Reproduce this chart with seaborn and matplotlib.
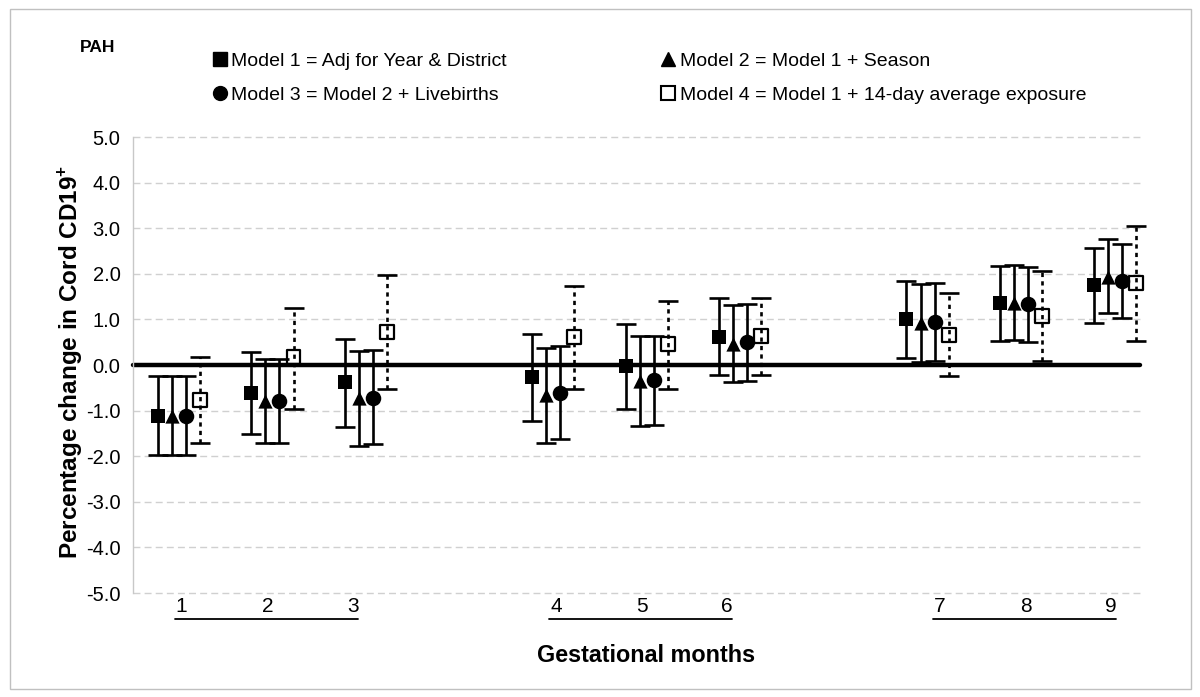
import numpy as np
import pandas as pd
import matplotlib
matplotlib.use("Agg")
import matplotlib.pyplot as plt
import matplotlib.transforms as mtransforms
from matplotlib.lines import Line2D
from matplotlib.patches import Rectangle
import seaborn as sns

# ---------------- data ----------------
months = [1, 2, 3, 4, 5, 6, 7, 8, 9]
model_labels = ["Model 1 = Adj for Year & District",
                "Model 2 = Model 1 + Season",
                "Model 3 = Model 2 + Livebirths",
                "Model 4 = Model 1 + 14-day average exposure"]

m1_est = [-1.11, -0.61, -0.38, -0.26, -0.02, 0.62, 1.00, 1.35, 1.75]
m1_lo = [-1.97, -1.51, -1.35, -1.22, -0.96, -0.23, 0.15, 0.52, 0.92]
m1_hi = [-0.25, 0.29, 0.58, 0.67, 0.89, 1.46, 1.84, 2.18, 2.57]

m2_est = [-1.12, -0.80, -0.73, -0.66, -0.34, 0.47, 0.93, 1.37, 1.94]
m2_lo = [-1.97, -1.72, -1.77, -1.70, -1.33, -0.38, 0.06, 0.54, 1.13]
m2_hi = [-0.25, 0.13, 0.31, 0.37, 0.64, 1.31, 1.77, 2.19, 2.76]

m3_est = [-1.11, -0.79, -0.72, -0.61, -0.33, 0.51, 0.95, 1.33, 1.84]
m3_lo = [-1.97, -1.72, -1.73, -1.63, -1.32, -0.36, 0.09, 0.50, 1.03]
m3_hi = [-0.25, 0.13, 0.32, 0.42, 0.64, 1.34, 1.80, 2.15, 2.65]

m4_est = [-0.77, 0.17, 0.72, 0.61, 0.46, 0.64, 0.66, 1.08, 1.79]
m4_lo = [-1.70, -0.96, -0.52, -0.53, -0.52, -0.21, -0.24, 0.09, 0.53]
m4_hi = [0.17, 1.26, 1.97, 1.73, 1.41, 1.48, 1.57, 2.06, 3.05]

y_ticks = [-5, -4, -3, -2, -1, 0, 1, 2, 3, 4, 5]
title_text = "PAH"
y_label = r"Percentage change in Cord CD19$^{\mathbf{+}}$"
x_label = "Gestational months"

# ---------------- styling ----------------
sns.set_theme(style="white")
plt.rcParams["font.family"] = ["Liberation Sans", "DejaVu Sans"]
plt.rcParams["text.color"] = "black"
plt.rcParams["axes.labelcolor"] = "black"
plt.rcParams["xtick.color"] = "black"
plt.rcParams["ytick.color"] = "black"
plt.rcParams["mathtext.fontset"] = "custom"
plt.rcParams["mathtext.rm"] = "Liberation Sans"
plt.rcParams["mathtext.bf"] = "Liberation Sans:bold"

ests = [m1_est, m2_est, m3_est, m4_est]
los = [m1_lo, m2_lo, m3_lo, m4_lo]
his = [m1_hi, m2_hi, m3_hi, m4_hi]

rows = []
for k in range(4):
    for i, mo in enumerate(months):
        rows.append(dict(model=model_labels[k], month=mo, est=ests[k][i],
                         lo=los[k][i], hi=his[k][i], k=k))
df = pd.DataFrame(rows)
# category slots with a blank slot between trimesters
df["slot"] = df["month"] + (df["month"] - 1) // 3
offsets = [-0.225, -0.075, 0.075, 0.225]
df["x"] = df["slot"] + df["k"].map(lambda k: offsets[k])

W, H = 1200, 697
fig = plt.figure(figsize=(W / 100, H / 100), dpi=100)
ax = fig.add_axes([133 / W, 1 - 593 / H, (1140 - 133) / W, (593 - 137) / H])

ax.set_xlim(0.51, 11.27)
ax.set_ylim(-5, 5)

# grid lines
for yv in y_ticks:
    if yv != 0:
        ax.axhline(yv, color="#d0d0d0", lw=1.0, dashes=(5, 3), zorder=0,
                   clip_on=False)
ax.axhline(0, color="black", lw=3.2, zorder=1, clip_on=False)

markers = ["s", "^", "o", "s"]
sizes = [115, 105, 125, 100]
for k in range(4):
    sub = df[df["k"] == k]
    eb = ax.errorbar(sub["x"], sub["est"],
                     yerr=[sub["est"] - sub["lo"], sub["hi"] - sub["est"]],
                     fmt="none", ecolor="black", elinewidth=1.9,
                     capsize=7, capthick=1.9, zorder=2)
    for art in eb.get_children():
        art.set_clip_on(False)
    if k == 3:
        eb[2][0].set_linestyle((0, (1.6, 1.6)))
        sns.scatterplot(data=sub, x="x", y="est", marker="s", s=sizes[k],
                        facecolors="none", edgecolor="black", linewidth=1.6,
                        ax=ax, zorder=3, legend=False)
    else:
        sns.scatterplot(data=sub, x="x", y="est", marker=markers[k], s=sizes[k],
                        color="black", edgecolor="black", linewidth=0,
                        ax=ax, zorder=3, legend=False)
for coll in ax.collections:
    coll.set_clip_on(False)

# axes styling
for sp in ["top", "right", "bottom"]:
    ax.spines[sp].set_visible(False)
ax.spines["left"].set_color("#c8c8c8")
ax.spines["left"].set_linewidth(1.0)
ax.set_yticks(y_ticks)
ax.set_yticklabels([f"{v:.1f}" for v in y_ticks], fontsize=14.5)
ax.tick_params(axis="y", direction="out", length=5, color="#c8c8c8",
               labelcolor="black", pad=4)
ax.set_xticks([])
ax.set_xlabel("")
ax.set_ylabel("")

# month labels with underlines per trimester
trans = mtransforms.blended_transform_factory(ax.transData, fig.transFigure)
lab_off = [0.03, -0.05, -0.14]
for g in range(3):
    grp = months[g * 3:(g + 1) * 3]
    shift = 0.1 if g == 2 else 0.0
    for j, mo in enumerate(grp):
        slot = mo + (mo - 1) // 3
        ax.text(slot + lab_off[j] + shift, 1 - 607 / H, str(mo), transform=trans,
                ha="center", va="center", fontsize=15, color="black")
    s0 = grp[0] + (grp[0] - 1) // 3
    s1 = grp[-1] + (grp[-1] - 1) // 3
    ax.add_line(Line2D([s0 - 0.04 + shift, s1 - 0.09 + shift],
                       [1 - 619 / H, 1 - 619 / H], transform=trans,
                       color="black", lw=1.3, clip_on=False))

fig.text(71 / W, 1 - 362 / H, y_label, rotation=90, ha="center", va="center",
         fontsize=17.5, fontweight="bold", color="black")
fig.text(646 / W, 1 - 655 / H, x_label, ha="center", va="center",
         fontsize=16.8, fontweight="bold", color="black")
fig.text(80 / W, 1 - 47 / H, title_text, ha="left", va="center",
         fontsize=12.5, fontweight="bold", color="black")

# legend
handles = [
    Line2D([], [], marker="s", color="black", ls="none", markersize=10),
    Line2D([], [], marker="^", color="black", ls="none", markersize=10),
    Line2D([], [], marker="o", color="black", ls="none", markersize=10),
    Line2D([], [], marker="s", markerfacecolor="none", markeredgecolor="black",
           markeredgewidth=1.5, ls="none", markersize=10),
]
order = [0, 2, 1, 3]
fig.legend([handles[i] for i in order], [model_labels[i] for i in order],
           ncol=2, frameon=False, loc="upper left",
           bbox_to_anchor=(210 / W, 1 - 52 / H), fontsize=14,
           handletextpad=0.1, handlelength=1.0, columnspacing=7.8,
           labelspacing=0.85, borderaxespad=0, borderpad=0,
           labelcolor="black")

# figure border
fig.patches.append(Rectangle((10 / W, 8 / H), 1181 / W, 680 / H,
                             transform=fig.transFigure, fill=False,
                             edgecolor="#c0c0c0", lw=1.0))

fig.savefig("out.png", dpi=100)
